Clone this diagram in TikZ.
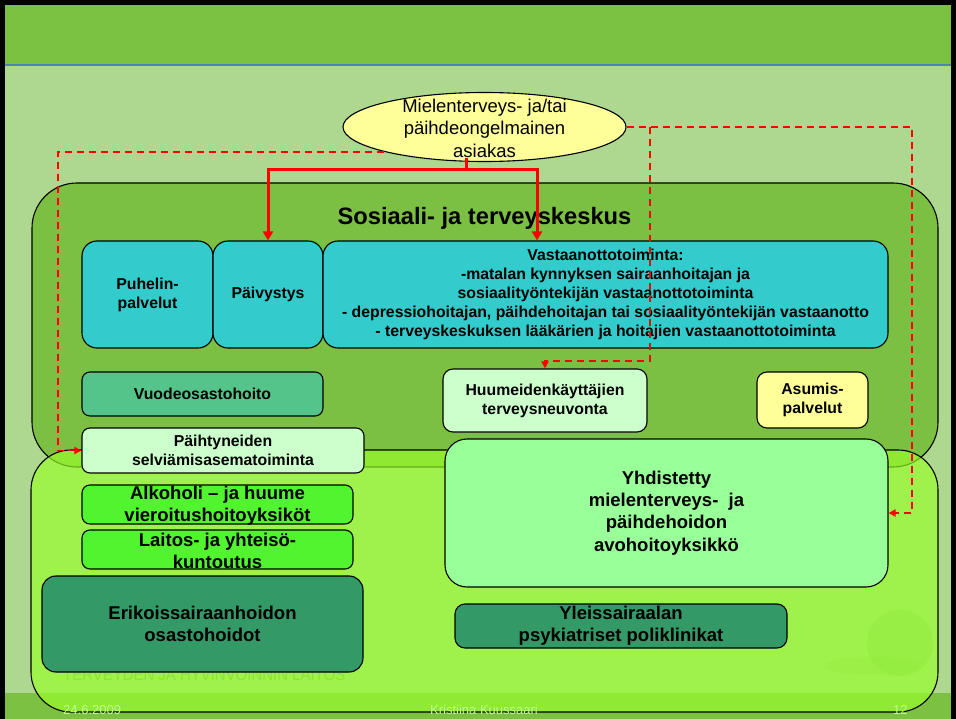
\documentclass[tikz,border=0pt]{standalone}
\usepackage{fontspec}
\setmainfont{Liberation Sans}
\usepackage{graphicx}
\usetikzlibrary{shapes.geometric,arrows.meta,calc}
\definecolor{bgl}{RGB}{174,215,144}
\definecolor{barg}{RGB}{123,193,66}
\definecolor{footg}{RGB}{125,193,66}
\definecolor{blueln}{RGB}{79,129,189}
\definecolor{upperg}{RGB}{123,191,67}
\definecolor{lowerg}{RGB}{153,255,42}
\definecolor{cyanb}{RGB}{51,204,204}
\definecolor{vuodg}{RGB}{85,196,138}
\definecolor{palegr}{RGB}{204,255,204}
\definecolor{brightg}{RGB}{82,244,48}
\definecolor{darkg}{RGB}{51,153,102}
\definecolor{mintg}{RGB}{153,255,153}
\definecolor{paley}{RGB}{255,255,153}
\definecolor{faintd}{RGB}{140,226,66}
\definecolor{logog}{RGB}{146,236,62}
\definecolor{faintl}{RGB}{190,250,150}
\definecolor{redln}{RGB}{255,0,0}
\begin{document}
\begin{tikzpicture}[x=1pt,y=-1pt,
  bx/.style={draw=black, line width=1.1pt, align=center, inner sep=0pt,
    font=\bfseries\fontsize{15.8}{19}\selectfont},
  bxl/.style={bx, font=\bfseries\fontsize{18.5}{22.2}\selectfont},
  bigtxt/.style={align=center, inner sep=0pt, font=\bfseries\fontsize{18.5}{22}\selectfont},
  conn/.style={redln, line width=3pt, -{Triangle[length=9pt,width=10pt]}},
  dconn/.style={redln, line width=1.8pt, dash pattern=on 7pt off 5pt, -{Triangle[length=7pt,width=7pt]}},
  foot/.style={anchor=west, inner sep=0pt, text=faintl, font=\fontsize{13}{15}\selectfont}
]
\useasboundingbox (0,0) rectangle (956,719);
% background
\fill[bgl] (0,0) rectangle (956,719);
\fill[barg] (0,0) rectangle (956,65);
\draw[blueln, line width=1.5pt] (0,65) -- (956,65);
\fill[footg] (0,693) rectangle (956,719);
\fill[black] (0,0) rectangle (956,5);
\fill[black] (0,0) rectangle (5,719);
\fill[black] (951,0) rectangle (956,719);

% big containers
\draw[fill=upperg, line width=1.1pt, rounded corners=45pt] (32,183) rectangle (938,467);
\draw[fill=lowerg, fill opacity=0.67, line width=1.1pt, rounded corners=40pt] (31,450) rectangle (938,712);

% faint footer texts and logo
\node[anchor=west, inner sep=0pt, text=faintd, font=\fontsize{16.8}{20}\selectfont] (org) at (63,675) {\scalebox{0.89}[1]{TERVEYDEN JA HYVINVOINNIN LAITOS}};
\node[foot] (date) at (63,710) {24.6.2009};
\node[foot] (auth) at (430,710) {Kristiina Kuussaari};
\node[foot] (pgno) at (893,710) {12};
\fill[logog, opacity=0.25] (872,666) ellipse (48pt and 9pt);
\fill[logog, opacity=0.5] (900,643) circle (33pt);

% title
\node[anchor=base, inner sep=0pt, font=\bfseries\fontsize{23.7}{28}\selectfont] (title) at (484.5,225) {Sosiaali- ja terveyskeskus};

% client ellipse
\node[ellipse, draw=black, line width=1.1pt, fill=paley, minimum width=283pt, minimum height=69pt, inner sep=0pt] (ell) at (484.5,127) {};
\node[align=center, inner sep=0pt, font=\fontsize{18.5}{22.5}\selectfont] (elltxt) at (484.5,128) {Mielenterveys- ja/tai\\päihdeongelmainen\\asiakas};

% boxes
\node[bx, fill=cyanb, rounded corners=15pt, minimum width=131pt, minimum height=107pt] (puh) at (147.5,294.5) {Puhelin-\\palvelut};
\node[bx, fill=cyanb, rounded corners=15pt, minimum width=110pt, minimum height=107pt] (paiv) at (268,294.5) {Päivystys};
\node[bx, fill=cyanb, rounded corners=15pt, minimum width=565pt, minimum height=107pt] (vast) at (605.5,294.5) {Vastaanottotoiminta:\\-matalan kynnyksen sairaanhoitajan ja\\sosiaalityöntekijän vastaanottotoiminta\\- depressiohoitajan, päihdehoitajan tai sosiaalityöntekijän vastaanotto\\- terveyskeskuksen lääkärien ja hoitajien vastaanottotoiminta};
\node[bx, fill=vuodg, rounded corners=8pt, minimum width=241pt, minimum height=44pt] (vuod) at (202.5,394) {Vuodeosastohoito};
\node[bx, fill=palegr, rounded corners=8pt, minimum width=282pt, minimum height=45pt] (paih) at (223,450.5) {Päihtyneiden\\selviämisasematoiminta};
\node[bx, fill=brightg, rounded corners=8pt, minimum width=271pt, minimum height=39pt] (alk) at (217.5,504.5) {};
\node[bigtxt] (alkt) at (217.5,506) {Alkoholi – ja huume\\vieroitushoitoyksiköt};
\node[bx, fill=brightg, rounded corners=8pt, minimum width=271pt, minimum height=39pt] (lait) at (217.5,549.5) {};
\node[bigtxt] (laitt) at (217.5,551) {Laitos- ja yhteisö-\\kuntoutus};
\node[bxl, fill=darkg, rounded corners=14pt, minimum width=321pt, minimum height=96pt] (erik) at (202.5,624) {Erikoissairaanhoidon\\osastohoidot};
\node[bx, fill=palegr, rounded corners=10pt, minimum width=204pt, minimum height=63pt] (huum) at (545,400.5) {Huumeidenkäyttäjien\\terveysneuvonta};
\node[bx, fill=paley, rounded corners=10pt, minimum width=111pt, minimum height=56pt] (asum) at (812.5,400) {Asumis-\\palvelut};
\node[bxl, fill=mintg, rounded corners=22pt, minimum width=443pt, minimum height=148pt] (yhd) at (666.5,513) {Yhdistetty\\mielenterveys-~ ja\\päihdehoidon\\avohoitoyksikkö};
\node[bxl, fill=darkg, rounded corners=10pt, minimum width=332pt, minimum height=44pt] (ylei) at (621,626) {Yleissairaalan\\psykiatriset poliklinikat};

% connectors
\coordinate (s0) at (466,158);
\coordinate (s1) at (466,170);
\coordinate (vx) at (537,0);
\coordinate (lc) at (58,0);
\coordinate (rc) at (912,0);
\coordinate (b1) at (650,127);
\coordinate (b2) at (650,361);
\coordinate (e0) at (ell.south west);
\draw[redln, line width=3pt] (s0) -- (s1);
\draw[conn] (s1) -| (paiv.north);
\draw[conn] (s1) -| (vx |- vast.north);
\draw[dconn] (e0) -- (lc |- e0) -- (lc |- paih.west) -- (paih.west);
\draw[dconn] (ell.east) -| (rc |- yhd.east) -- (yhd.east);
\draw[dconn] (b1) -- (b2) -| (huum.north);
\end{tikzpicture}
\end{document}
